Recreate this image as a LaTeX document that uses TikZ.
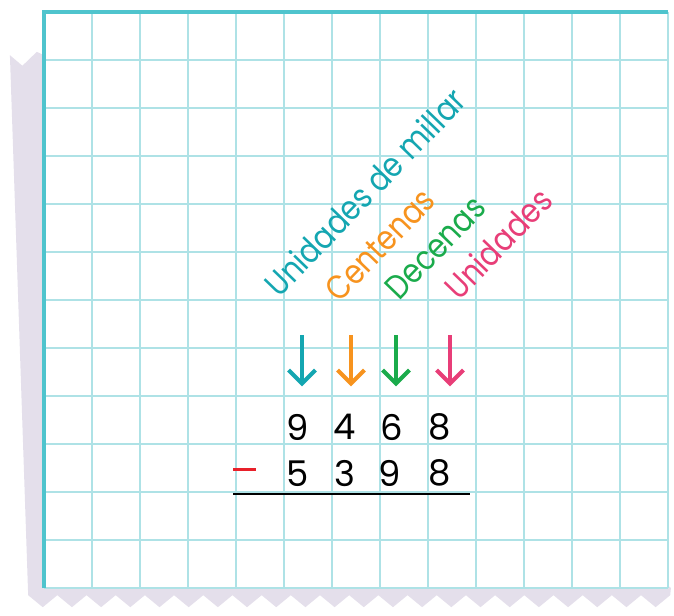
\documentclass[tikz,border=0pt]{standalone}
\usepackage{fontspec}
\setmainfont{Poppins}
\usetikzlibrary{arrows.meta}

\definecolor{gridteal}{HTML}{AEE2E6}
\definecolor{borderteal}{HTML}{4FC4CD}
\definecolor{paperback}{HTML}{E4DFEB}
\definecolor{umteal}{HTML}{14A6B1}
\definecolor{cenorange}{HTML}{F7931E}
\definecolor{decgreen}{HTML}{1AAB4B}
\definecolor{unipink}{HTML}{E83E78}
\definecolor{minusred}{HTML}{E8202A}

\newcommand{\narrow}[1]{\scalebox{0.86}[1]{#1}}

\tikzset{
  place/.style={font=\fontsize{20}{20}\selectfont, rotate=46, anchor=base west, inner sep=0pt},
  digit/.style={font=\fontsize{21}{21}\selectfont, inner sep=0pt},
  colarrow/.style={line width=2.4pt, -{Straight Barb[length=8pt,width=16pt]}}
}

\begin{document}
\begin{tikzpicture}
    \useasboundingbox (-0.9167,-0.5625) rectangle (13.125,12.25);

    % Sheet underneath, torn edges
    \fill[paperback] (0,11.1) -- (-0.15,11.17) -- (-0.45,10.88) -- (-0.71,11.1)
        -- (-0.33,-0.15)
        \foreach \i in {0,...,21} { -- ({-0.33+0.608*\i+0.304},-0.4) -- ({-0.33+0.608*(\i+1)},-0.15) }
        -- (13.06,0) -- cycle;

    % Grid paper
    \fill[white] (0,0) rectangle (13,12);
    \draw[gridteal, line width=1.4pt] (0,0) grid (13,12);
    \draw[borderteal, line width=1.8pt] (0,0) -- (0,12) -- (13,12);

    % Place value names
    \node[place, text=umteal] (millar) at (4.9,6.02) {\narrow{Unidades de millar}};
    \node[place, text=cenorange] (centenas) at (6.15,5.92) {\narrow{Centenas}};
    \node[place, text=decgreen] (decenas) at (7.4,5.96) {\narrow{Decenas}};
    \node[place, text=unipink] (unidades) at (8.65,5.96) {\narrow{Unidades}};

    % Arrows
    \coordinate (mtop) at (5.375,5.27);  \coordinate (mbot) at (5.375,4.2);
    \coordinate (ctop) at (6.396,5.27);  \coordinate (cbot) at (6.396,4.2);
    \coordinate (dtop) at (7.333,5.27);  \coordinate (dbot) at (7.333,4.2);
    \coordinate (utop) at (8.458,5.27);  \coordinate (ubot) at (8.458,4.2);
    \draw[colarrow, umteal] (mtop) -- (mbot);
    \draw[colarrow, cenorange] (ctop) -- (cbot);
    \draw[colarrow, decgreen] (dtop) -- (dbot);
    \draw[colarrow, unipink] (utop) -- (ubot);

    % Subtraction
    \node[digit] (a1) at (5.29,3.35) {9};
    \node[digit] (a2) at (6.27,3.35) {4};
    \node[digit] (a3) at (7.25,3.35) {6};
    \node[digit] (a4) at (8.25,3.35) {8};
    \node[digit] (b1) at (5.29,2.39) {5};
    \node[digit] (b2) at (6.27,2.39) {3};
    \node[digit] (b3) at (7.21,2.39) {9};
    \node[digit] (b4) at (8.25,2.39) {8};
    \coordinate (mleft) at (3.94,2.46); \coordinate (mright) at (4.42,2.46);
    \draw[minusred, line width=1.8pt] (mleft) -- (mright);
    \coordinate (lleft) at (3.94,1.96); \coordinate (lright) at (8.875,1.96);
    \draw[black, line width=0.9pt] (lleft) -- (lright);
\end{tikzpicture}
\end{document}
